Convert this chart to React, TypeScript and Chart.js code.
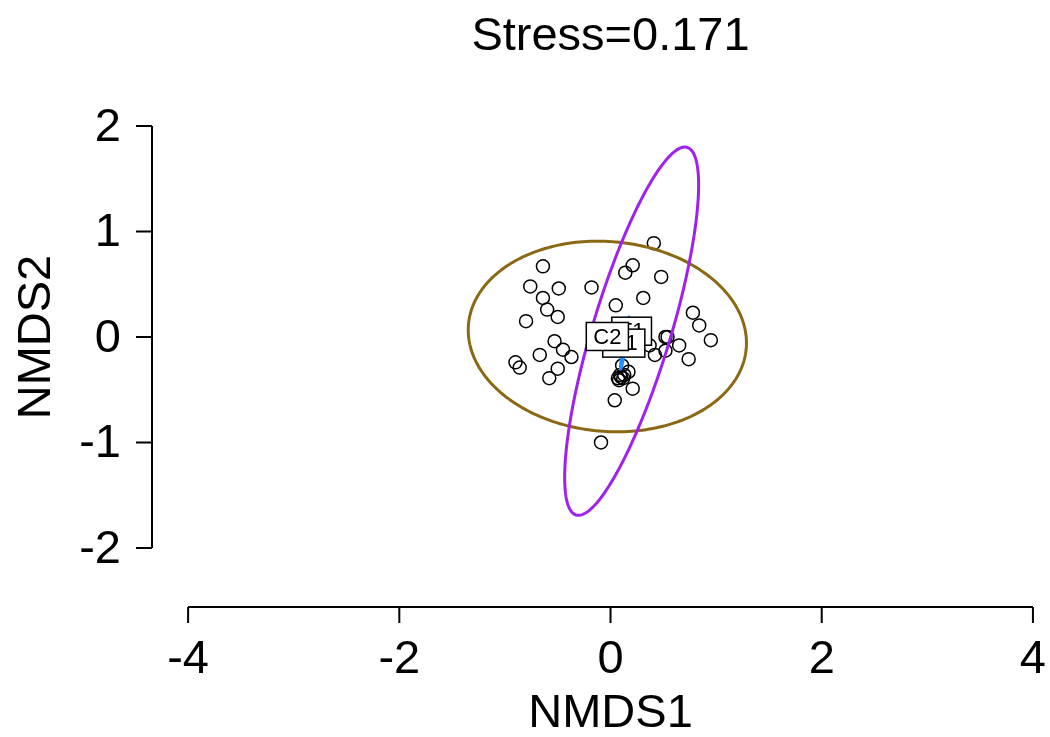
import React, { useEffect, useRef } from "react";
import { Chart, registerables } from "chart.js";
Chart.register(...registerables);

// Site scores
const nmds1 = [0.41, -0.64, 0.21, 0.14, 0.48, -0.76, -0.49, -0.18, -0.64, 0.31, 0.05, -0.6, -0.5, -0.8, 0.78, 0.84, 0.95, 0.52, 0.54, -0.53, -0.45, -0.37, -0.67, -0.9, -0.86, -0.5, -0.58, 0.37, 0.65, 0.42, 0.52, 0.74, 0.11, 0.17, 0.09, 0.08, 0.12, 0.21, 0.04, -0.09, 0.1, 0.13, 0.07];
const nmds2 = [0.89, 0.67, 0.68, 0.61, 0.57, 0.48, 0.46, 0.47, 0.37, 0.37, 0.3, 0.26, 0.19, 0.15, 0.23, 0.11, -0.03, 0.0, 0.0, -0.04, -0.12, -0.19, -0.17, -0.24, -0.29, -0.3, -0.39, -0.08, -0.08, -0.17, -0.13, -0.21, -0.27, -0.33, -0.36, -0.41, -0.39, -0.49, -0.6, -1.0, -0.38, -0.36, -0.39];

const xTicks = [-4, -2, 0, 2, 4];
const yTicks = [-2, -1, 0, 1, 2];

// Group ellipses (ordiellipse)
const groupLabels = ["T1", "C1", "C2"];
const groupCenterX = [0.2, 0.135, -0.03];
const groupCenterY = [0.055, -0.058, 0.005];
const ellipseMajor = [1.82, 0.25, 1.32];
const ellipseMinor = [0.37, 0.012, 0.9];
const ellipseAngleDeg = [73.2, 81, -5];
const ellipseColors = ["#A020F0", "#1E90FF", "#8B6914"];
const ellipseDrawOrder = [2, 1, 0];
const labelDrawOrder = [0, 1, 2];

const titleText = "Stress=0.171";
const xTitle = "NMDS1";
const yTitle = "NMDS2";

const FONT = "'Liberation Sans', Arial, sans-serif";

const rPlotPlugin = {
  id: "rPlot",
  afterDatasetsDraw(chart: any) {
    const ctx = chart.ctx as CanvasRenderingContext2D;
    const xs = chart.scales.x;
    const ys = chart.scales.y;
    ellipseDrawOrder.forEach((g) => {
      const th = (ellipseAngleDeg[g] * Math.PI) / 180;
      ctx.save();
      ctx.beginPath();
      const n = 240;
      for (let i = 0; i <= n; i++) {
        const t = (i / n) * Math.PI * 2;
        const ex = ellipseMajor[g] * Math.cos(t);
        const ey = ellipseMinor[g] * Math.sin(t);
        const dx = groupCenterX[g] + ex * Math.cos(th) - ey * Math.sin(th);
        const dy = groupCenterY[g] + ex * Math.sin(th) + ey * Math.cos(th);
        const px = xs.getPixelForValue(dx);
        const py = ys.getPixelForValue(dy);
        if (i === 0) ctx.moveTo(px, py);
        else ctx.lineTo(px, py);
      }
      ctx.closePath();
      ctx.strokeStyle = ellipseColors[g];
      ctx.lineWidth = 3;
      ctx.stroke();
      ctx.restore();
    });
    labelDrawOrder.forEach((g) => {
      const px = xs.getPixelForValue(groupCenterX[g]) - (g === 1 ? 1 : 0);
      const py = ys.getPixelForValue(groupCenterY[g]);
      ctx.save();
      ctx.font = `22px ${FONT}`;
      const w = ctx.measureText(groupLabels[g]).width + 14;
      const h = 28;
      ctx.fillStyle = "#ffffff";
      ctx.fillRect(px - w / 2, py - h / 2, w, h);
      ctx.strokeStyle = "#000000";
      ctx.lineWidth = 1.5;
      ctx.strokeRect(px - w / 2, py - h / 2, w, h);
      ctx.fillStyle = "#000000";
      ctx.textAlign = "center";
      ctx.textBaseline = "middle";
      ctx.fillText(groupLabels[g], px, py + 1);
      ctx.restore();
    });
  },
  afterDraw(chart: any) {
    const ctx = chart.ctx as CanvasRenderingContext2D;
    const xs = chart.scales.x;
    const ys = chart.scales.y;
    const area = chart.chartArea;
    ctx.save();
    ctx.strokeStyle = "#000000";
    ctx.fillStyle = "#000000";
    ctx.lineWidth = 2;
    const xy = area.bottom;
    ctx.beginPath();
    ctx.moveTo(xs.getPixelForValue(xTicks[0]), xy);
    ctx.lineTo(xs.getPixelForValue(xTicks[xTicks.length - 1]), xy);
    xTicks.forEach((v) => {
      const p = xs.getPixelForValue(v);
      ctx.moveTo(p, xy);
      ctx.lineTo(p, xy + 16);
    });
    ctx.stroke();
    ctx.font = `47px ${FONT}`;
    ctx.textAlign = "center";
    ctx.textBaseline = "alphabetic";
    xTicks.forEach((v) => {
      ctx.fillText(String(v), xs.getPixelForValue(v), xy + 66);
    });
    const yx = area.left;
    ctx.beginPath();
    ctx.moveTo(yx, ys.getPixelForValue(yTicks[0]));
    ctx.lineTo(yx, ys.getPixelForValue(yTicks[yTicks.length - 1]));
    yTicks.forEach((v) => {
      const p = ys.getPixelForValue(v);
      ctx.moveTo(yx, p);
      ctx.lineTo(yx - 16, p);
    });
    ctx.stroke();
    ctx.textAlign = "right";
    ctx.textBaseline = "middle";
    yTicks.forEach((v) => {
      ctx.fillText(String(v), yx - 31, ys.getPixelForValue(v) + 2);
    });
    ctx.textAlign = "center";
    ctx.textBaseline = "alphabetic";
    ctx.fillText(xTitle, xs.getPixelForValue(0), 727);
    ctx.save();
    ctx.translate(50, ys.getPixelForValue(0));
    ctx.rotate(-Math.PI / 2);
    ctx.fillText(yTitle, 0, 0);
    ctx.restore();
    ctx.fillText(titleText, xs.getPixelForValue(0), 50);
    ctx.restore();
  },
};

export default function App() {
  const ref = useRef<HTMLCanvasElement | null>(null);
  useEffect(() => {
    document.body.style.margin = "0";
    const canvas = ref.current;
    if (!canvas) return;
    const chart = new Chart(canvas, {
      type: "scatter",
      data: {
        datasets: [
          {
            label: "sites",
            data: nmds1.map((x, i) => ({ x, y: nmds2[i] })),
            pointStyle: "circle",
            pointRadius: 6.5,
            pointHoverRadius: 6.5,
            backgroundColor: "rgba(0,0,0,0)",
            borderColor: "#000000",
            borderWidth: 1.5,
          },
        ],
      },
      options: {
        responsive: false,
        animation: false,
        events: [],
        layout: { padding: { left: 152, right: 10, top: 67, bottom: 130 } },
        plugins: {
          legend: { display: false },
          tooltip: { enabled: false },
          title: { display: false },
        },
        scales: {
          x: { type: "linear", display: false, min: -4.342, max: 4.067 },
          y: { type: "linear", display: false, min: -2.56, max: 2.56 },
        },
      },
      plugins: [rPlotPlugin],
    });
    return () => chart.destroy();
  }, []);
  return (
    <div style={{ width: 1050, height: 737, background: "#ffffff" }}>
      <canvas ref={ref} width={1050} height={737} style={{ display: "block" }} />
    </div>
  );
}
